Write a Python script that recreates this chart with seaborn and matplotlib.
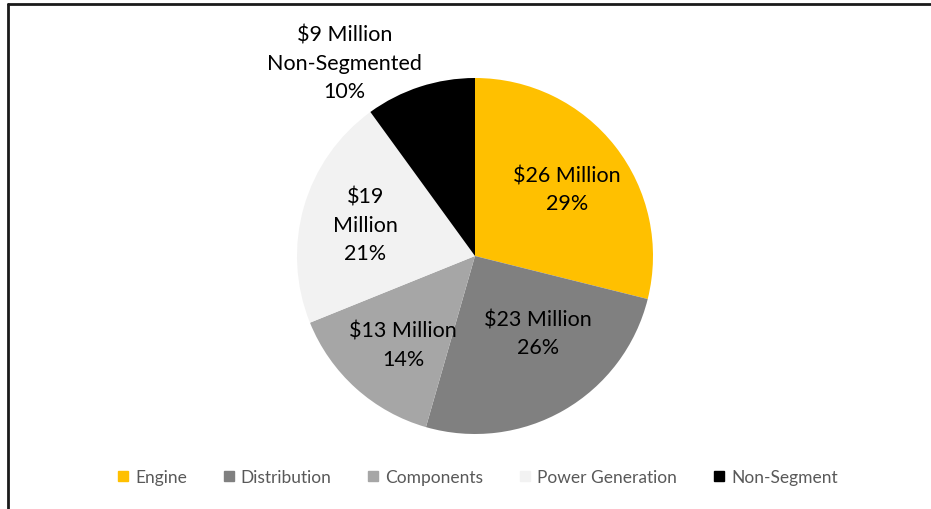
import numpy as np
import matplotlib
matplotlib.use("Agg")
import matplotlib.pyplot as plt
import seaborn as sns
from matplotlib.lines import Line2D

sns.set_style("white")
plt.rcParams['font.family'] = ['Lato', 'DejaVu Sans']

# data
segments = ["Engine", "Distribution", "Components", "Power Generation", "Non-Segment"]
values = [26, 23, 13, 19, 9]
labels = ["$26 Million\n29%", "$23 Million\n26%", "$13 Million\n14%",
          "$19\nMillion\n21%", "$9 Million\nNon-Segmented\n10%"]
colors = ["#FFC000", "#808080", "#A6A6A6", "#F2F2F2", "#000000"]

fig = plt.figure(figsize=(9.31, 5.10), dpi=100)
ax = fig.add_axes([297 / 931, 75 / 510, 356 / 931, 356 / 510])

wedges, _ = ax.pie(values, colors=colors, startangle=90, counterclock=False,
                   wedgeprops=dict(linewidth=0))
ax.set_xlim(-1, 1)
ax.set_ylim(-1, 1)
ax.set_aspect("equal")

# label placement: distance from centre and small angle nudges
dists = [0.64, 0.56, 0.64, 0.64, 1.31]
nudges = [-2, 9, 3, 0, 16]
for w, lab, d, n in zip(wedges, labels, dists, nudges):
    ang = np.deg2rad((w.theta1 + w.theta2) / 2 + n)
    ax.text(d * np.cos(ang), d * np.sin(ang), lab, ha="center", va="center",
            fontsize=15.5, color="black", linespacing=1.5, clip_on=False)

handles = [Line2D([], [], marker="s", linestyle="", markersize=7.5,
                  markerfacecolor=c, markeredgecolor=c) for c in colors]
leg = fig.legend(handles, segments, loc="center", bbox_to_anchor=(476 / 931, 1 - 478 / 510),
                 ncol=5, frameon=False, fontsize=12.5, handletextpad=0.2,
                 columnspacing=1.9, handlelength=1.0)
for t in leg.get_texts():
    t.set_color("#595959")

# chart frame (left and top edges visible)
fig.add_artist(Line2D([8 / 931, 8 / 931], [0, 1 - 5 / 510], color="#1a1a1a", lw=2,
                      transform=fig.transFigure))
fig.add_artist(Line2D([8 / 931, 1], [1 - 5 / 510, 1 - 5 / 510], color="#1a1a1a", lw=2,
                      transform=fig.transFigure))

fig.savefig("out.png", dpi=100)
